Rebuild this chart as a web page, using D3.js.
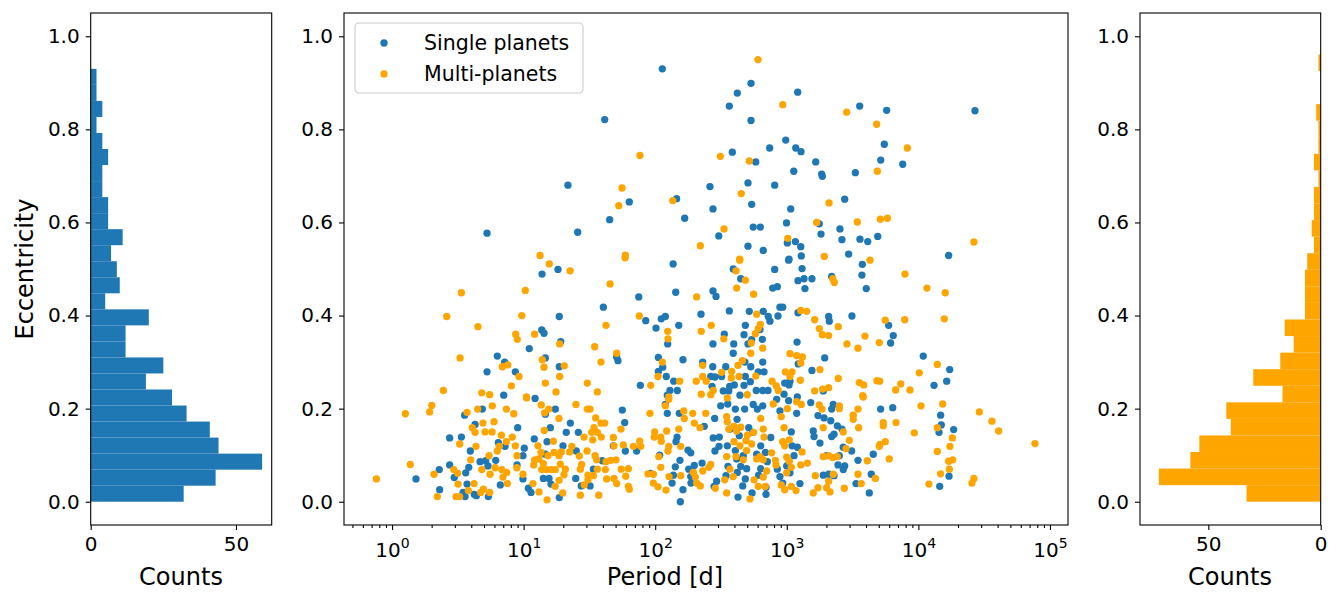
<!DOCTYPE html>
<html><head><meta charset="utf-8">
<script src="https://cdn.jsdelivr.net/npm/d3@7"></script>
<style>
body{margin:0;background:#fff}
text{font-family:"DejaVu Sans",sans-serif;fill:#000}
</style>
</head><body>
<svg id="chart" width="1341" height="604"></svg>
<script>
// ---------- DATA ----------
// log10 of orbital period in days, and eccentricity
const singleLogPeriod=[1.337,0.722,1.411,2.054,1.616,2.728,2.624,2.563,3.083,2.728,2.992,2.870,3.068,3.108,2.586,2.764,3.220,3.053,3.265,3.270,2.416,2.705,2.908,2.163,1.803,1.654,2.224,2.439,2.733,3.030,2.745,2.799,2.998,3.247,3.260,2.483,2.705,2.821,3.004,3.065,3.106,3.110,3.017,
3.554,3.759,4.430,3.741,3.714,3.881,3.521,3.440,3.404,3.419,3.556,3.615,3.691,3.470,4.230,
1.261,1.140,1.271,1.138,1.155,1.282,1.043,0.800,0.856,1.165,1.271,0.722,0.937,0.849,1.087,
2.136,2.593,2.650,3.014,2.908,3.116,3.085,3.131,3.191,2.893,2.928,3.138,1.875,2.156,2.439,2.462,1.606,2.563,2.715,2.821,2.948,2.969,2.348,1.928,2.046,2.077,2.179,2.006,2.859,2.872,2.933,2.685,2.796,3.085,3.318,3.323,2.525,2.675,2.733,2.814,2.095,2.439,2.597,2.705,3.078,2.593,1.707,1.717,2.024,2.211,2.057,2.361,2.682,2.817,3.087,3.288,2.437,2.536,2.726,2.783,2.827,3.191,2.024,2.084,2.141,2.422,2.454,2.505,2.685,2.723,3.024,3.017,2.984,1.887,2.112,2.168,2.432,2.566,2.601,2.675,2.517,2.559,2.768,2.817,2.857,2.979,3.080,3.277,2.092,2.644,
3.574,3.571,3.604,3.341,3.495,3.774,3.809,3.789,4.037,4.238,4.215,4.119,
0.182,0.359,0.362,0.438,0.438,0.527,0.552,0.686,0.631,0.595,0.669,0.712,0.729,0.788,0.583,0.560,0.473,0.570,0.540,0.625,0.555,0.732,0.641,0.823,0.808,0.859,0.955,1.005,0.995,0.950,0.995,1.036,1.056,1.081,1.165,1.241,1.203,1.178,1.165,1.299,1.324,1.355,1.416,1.400,1.150,1.193,1.208,1.396,1.438,1.271,
1.750,1.768,1.682,1.773,1.859,1.598,1.530,1.505,2.092,2.077,2.183,2.166,2.158,2.249,2.270,2.034,2.188,2.153,2.255,2.297,2.356,1.963,2.138,2.128,2.270,2.272,2.211,2.191,2.373,2.452,2.441,2.487,2.454,2.485,2.498,2.551,2.609,2.680,2.745,2.776,2.817,2.622,2.568,2.711,2.741,2.639,2.548,2.609,2.619,2.669,2.650,2.695,2.624,2.553,2.538,2.685,2.665,2.467,2.447,2.629,2.736,2.786,2.802,2.837,2.878,2.802,2.771,2.852,2.928,2.948,2.969,2.842,2.842,2.923,2.948,3.014,3.075,3.034,3.040,3.080,3.055,2.999,3.024,3.100,3.182,3.237,3.283,3.201,3.207,3.252,3.303,3.277,3.318,
3.353,3.341,3.334,3.384,3.419,3.359,3.341,3.429,3.493,3.399,3.389,3.440,3.429,3.359,3.541,3.657,3.642,3.526,3.627,3.713,3.805,4.169,4.174,4.157,4.268,4.233,4.162];
const singleEcc=[0.680,0.577,0.579,0.930,0.821,0.899,0.878,0.850,0.880,0.819,0.777,0.760,0.760,0.752,0.751,0.730,0.730,0.710,0.704,0.699,0.677,0.685,0.680,0.651,0.644,0.606,0.609,0.629,0.639,0.629,0.590,0.590,0.599,0.597,0.575,0.571,0.549,0.540,0.556,0.559,0.548,0.528,0.521,
0.850,0.841,0.840,0.768,0.734,0.725,0.707,0.650,0.586,0.563,0.564,0.559,0.570,0.532,0.529,
0.499,0.489,0.398,0.369,0.362,0.344,0.329,0.313,0.300,0.309,0.290,0.279,0.279,0.229,0.222,
0.511,0.500,0.479,0.519,0.499,0.501,0.475,0.479,0.479,0.459,0.462,0.458,0.440,0.450,0.453,0.441,0.418,0.410,0.409,0.409,0.418,0.418,0.403,0.389,0.393,0.398,0.379,0.373,0.398,0.388,0.399,0.379,0.370,0.406,0.398,0.388,0.360,0.359,0.348,0.349,0.339,0.339,0.339,0.339,0.343,0.319,0.311,0.303,0.310,0.305,0.289,0.300,0.300,0.300,0.296,0.309,0.290,0.290,0.290,0.279,0.279,0.282,0.280,0.269,0.259,0.269,0.268,0.269,0.269,0.258,0.259,0.251,0.255,0.250,0.239,0.239,0.248,0.248,0.251,0.250,0.238,0.238,0.239,0.239,0.239,0.231,0.225,0.238,0.229,0.229,
0.510,0.487,0.458,0.484,0.399,0.379,0.357,0.341,0.313,0.284,0.259,0.250,
0.049,0.069,0.026,0.079,0.137,0.139,0.186,0.199,0.166,0.109,0.086,0.088,0.077,0.089,0.074,0.062,0.052,0.038,0.020,0.016,0.011,0.011,0.013,0.036,0.127,0.119,0.159,0.115,0.099,0.079,0.049,0.029,0.020,0.135,0.188,0.199,0.159,0.129,0.102,0.120,0.149,0.169,0.149,0.109,0.050,0.050,0.038,0.050,0.034,0.009,
0.197,0.170,0.120,0.109,0.109,0.088,0.070,0.034,0.190,0.209,0.190,0.139,0.129,0.111,0.105,0.100,0.089,0.075,0.070,0.078,0.083,0.061,0.057,0.040,0.054,0.040,0.026,0.000,0.162,0.179,0.137,0.139,0.109,0.119,0.206,0.210,0.199,0.199,0.209,0.199,0.206,0.177,0.156,0.159,0.149,0.142,0.120,0.110,0.092,0.099,0.076,0.071,0.063,0.076,0.056,0.049,0.034,0.044,0.033,0.010,0.019,0.057,0.071,0.106,0.138,0.120,0.102,0.086,0.070,0.054,0.040,0.016,0.031,0.220,0.195,0.217,0.190,0.150,0.120,0.117,0.099,0.077,0.062,0.039,0.213,0.185,0.180,0.152,0.140,0.126,0.099,0.057,0.059,
0.209,0.199,0.174,0.163,0.156,0.145,0.140,0.117,0.109,0.099,0.079,0.077,0.069,0.056,0.089,0.102,0.059,0.039,0.019,0.199,0.202,0.186,0.165,0.149,0.155,0.055,0.033];

const multiLogPeriod=[1.125,2.781,2.969,1.884,2.495,2.715,1.748,1.723,2.133,2.654,3.321,2.523,3.227,3.007,2.343,1.773,2.642,3.285,3.455,3.683,3.916,3.688,3.536,3.711,3.764,4.422,3.632,
1.195,1.353,0.527,1.013,0.416,0.986,0.653,0.940,0.952,1.084,1.274,0.517,0.838,0.879,1.142,1.155,1.309,0.965,1.274,0.907,1.165,1.484,0.390,0.682,0.742,1.021,1.246,
1.771,2.642,2.614,2.685,2.619,2.748,1.657,2.315,1.879,1.626,2.771,2.799,2.783,2.761,2.426,2.350,2.095,2.097,2.521,3.106,3.151,3.212,3.247,3.270,3.318,1.540,1.588,1.707,2.730,2.817,2.726,3.024,3.075,3.118,3.106,2.054,2.361,2.629,2.662,2.581,2.505,2.021,2.361,2.388,2.578,2.637,2.764,2.989,3.040,3.024,3.252,3.103,2.888,2.920,2.935,2.186,2.312,1.966,1.560,2.441,2.422,2.350,2.700,3.212,3.273,3.318,2.103,
3.898,3.349,3.361,4.065,4.204,3.748,3.896,4.197,3.391,3.594,3.457,3.541,3.703,4.144,4.007,3.391,3.551,3.584,3.685,3.706,3.866,3.827,3.936,3.577,
-0.119,0.101,0.139,0.286,0.302,0.319,0.344,0.570,0.651,0.610,0.631,0.691,0.762,0.775,0.707,0.760,0.869,0.925,0.831,0.869,0.914,0.937,0.514,0.638,0.598,0.737,0.800,0.815,0.469,0.499,0.682,0.745,0.783,0.834,0.872,0.843,0.876,0.948,0.950,0.995,0.502,0.623,0.580,0.694,0.674,0.742,0.486,0.514,1.024,1.134,1.191,1.160,1.269,1.398,1.484,1.157,1.226,1.109,1.459,1.482,1.132,1.185,1.231,1.269,1.286,1.366,1.350,1.423,1.084,1.117,1.077,1.150,1.279,1.138,1.173,1.210,1.241,1.317,1.307,1.441,1.431,1.489,1.489,1.269,1.239,1.071,1.117,1.297,1.431,1.461,1.178,
1.505,1.548,1.588,1.616,1.535,1.517,1.560,1.590,1.525,1.682,1.687,1.758,1.834,1.882,1.890,1.740,1.960,2.103,2.077,2.217,2.285,2.384,2.221,2.297,2.340,1.996,1.993,2.042,2.046,2.087,2.179,2.103,2.097,2.194,1.543,1.555,1.626,1.662,1.702,1.560,1.621,1.530,1.742,1.796,1.776,1.631,1.687,1.707,1.796,1.803,1.571,2.027,2.042,1.945,1.986,1.986,2.021,2.082,2.105,2.194,2.290,2.305,2.315,2.343,2.361,2.407,2.422,2.528,2.457,2.543,2.593,2.543,2.568,2.614,2.669,2.695,2.733,2.690,2.599,2.644,2.543,2.548,2.559,2.599,2.650,2.619,2.700,2.748,2.821,2.827,2.802,2.897,3.004,2.958,2.979,2.969,3.019,2.984,2.771,2.796,2.821,2.885,2.913,2.918,2.847,2.821,2.751,2.783,2.837,2.720,2.999,3.019,3.034,2.999,2.958,2.984,3.034,3.070,3.116,3.106,3.156,3.075,3.110,3.247,3.267,3.277,3.277,3.318,3.217,3.237,3.201,3.303,3.318,2.548,
3.581,3.399,3.399,3.541,3.505,3.505,3.546,3.429,3.475,3.450,3.349,3.384,3.353,3.328,3.437,3.541,3.566,3.612,3.673,3.733,3.733,3.830,3.748,3.708,3.703,3.779,4.020,4.185,3.969,4.144,4.258,4.240,4.144,4.230,4.261,4.235,4.169,4.080,4.463,4.559,4.610,4.886,4.422,4.407];
const multiEcc=[0.529,0.950,0.853,0.744,0.742,0.732,0.674,0.636,0.647,0.662,0.642,0.586,0.600,0.566,0.550,0.530,0.521,0.527,0.837,0.811,0.760,0.710,0.601,0.607,0.609,0.558,0.519,
0.511,0.496,0.449,0.454,0.398,0.400,0.376,0.360,0.349,0.360,0.339,0.309,0.290,0.294,0.305,0.289,0.292,0.269,0.269,0.249,0.255,0.255,0.239,0.234,0.230,0.225,0.236,
0.524,0.519,0.496,0.476,0.459,0.446,0.468,0.440,0.399,0.379,0.403,0.381,0.372,0.361,0.379,0.366,0.366,0.350,0.350,0.411,0.409,0.391,0.372,0.359,0.357,0.333,0.300,0.319,0.341,0.330,0.319,0.318,0.314,0.311,0.298,0.300,0.293,0.293,0.303,0.280,0.278,0.269,0.269,0.259,0.266,0.269,0.270,0.279,0.279,0.269,0.284,0.261,0.259,0.249,0.239,0.259,0.259,0.250,0.236,0.239,0.230,0.231,0.230,0.238,0.242,0.245,0.225,
0.489,0.479,0.471,0.459,0.449,0.390,0.391,0.393,0.376,0.356,0.339,0.330,0.342,0.295,0.277,0.265,0.256,0.251,0.260,0.259,0.253,0.240,0.240,0.228,
0.049,0.189,0.080,0.193,0.207,0.059,0.011,0.192,0.199,0.159,0.149,0.169,0.206,0.172,0.150,0.150,0.199,0.189,0.143,0.129,0.139,0.120,0.124,0.119,0.090,0.099,0.109,0.119,0.069,0.061,0.069,0.059,0.073,0.069,0.063,0.053,0.039,0.073,0.099,0.059,0.038,0.039,0.024,0.027,0.020,0.020,0.011,0.011,0.223,0.208,0.199,0.191,0.179,0.209,0.199,0.153,0.130,0.120,0.139,0.109,0.106,0.099,0.106,0.099,0.107,0.119,0.107,0.098,0.090,0.092,0.079,0.082,0.081,0.069,0.069,0.069,0.069,0.070,0.058,0.080,0.070,0.057,0.047,0.046,0.033,0.039,0.021,0.019,0.014,0.036,0.004,
0.199,0.180,0.169,0.169,0.159,0.149,0.149,0.139,0.133,0.138,0.120,0.122,0.119,0.130,0.119,0.156,0.190,0.220,0.206,0.195,0.190,0.190,0.179,0.169,0.159,0.150,0.139,0.139,0.130,0.152,0.156,0.119,0.109,0.119,0.099,0.090,0.086,0.089,0.090,0.070,0.069,0.056,0.070,0.071,0.055,0.049,0.050,0.039,0.033,0.027,0.014,0.097,0.074,0.060,0.059,0.040,0.032,0.025,0.054,0.056,0.063,0.053,0.040,0.034,0.066,0.074,0.080,0.047,0.029,0.019,0.054,0.097,0.070,0.097,0.090,0.110,0.124,0.131,0.129,0.120,0.183,0.172,0.156,0.162,0.160,0.152,0.143,0.149,0.156,0.139,0.179,0.210,0.200,0.183,0.159,0.129,0.133,0.120,0.092,0.097,0.090,0.105,0.089,0.079,0.066,0.053,0.047,0.033,0.033,0.006,0.096,0.087,0.074,0.062,0.036,0.026,0.033,0.024,0.107,0.079,0.083,0.215,0.209,0.208,0.199,0.159,0.097,0.099,0.056,0.030,0.019,0.030,0.044,0.223,
0.225,0.206,0.200,0.199,0.186,0.177,0.159,0.150,0.132,0.114,0.095,0.097,0.059,0.021,0.029,0.059,0.039,0.088,0.050,0.170,0.163,0.170,0.129,0.123,0.119,0.092,0.206,0.210,0.148,0.159,0.137,0.119,0.108,0.087,0.090,0.070,0.060,0.038,0.193,0.173,0.152,0.125,0.050,0.040];

// histogram counts per eccentricity bin (bottom to top), 27 equal bins over each range
const singleHistCounts=[32,43,59,44,41,33,28,19,25,12,12,20,5,10,9,7,11,6,6,4,4,6,4,2,4,2,2];
const singleHistRange=[0,0.93];
const multiHistCounts=[33,72,58,54,40,42,17,30,18,12,16,7,7,7,6,3,4,3,3,1,3,1,1,2,0,0,1];
const multiHistRange=[0,0.961];

const eccTicks=[0,0.2,0.4,0.6,0.8,1.0];
const periodExponents=[0,1,2,3,4,5];
const leftCountTicks=[0,50];
const rightCountTicks=[50,0];
const seriesNames=["Single planets","Multi-planets"];

// ---------- LAYOUT ----------
const BLUE="#1f77b4", ORANGE="#ffa500";
const TOP=13, BOTTOM=525;
const svg=d3.select("#chart");
const y=d3.scaleLinear().domain([-0.05,1.05]).range([BOTTOM,TOP]);
const xL=d3.scaleLinear().domain([0,62.3]).range([90.7,271.7]);
const xM=d3.scaleLog().domain([Math.pow(10,-0.365),Math.pow(10,5.137)]).range([344,1068]);
const xR=d3.scaleLinear().domain([80.4,0]).range([1140,1320.7]);
const TICKFS=20, LABELFS=24;

function styleAxis(g){
  g.select(".domain").remove();
  g.selectAll(".tick line").attr("stroke","#000").attr("stroke-width",1.1);
  g.selectAll(".tick text").style("font-size",TICKFS+"px").style("font-family","DejaVu Sans");
}
function yAxis(xpos){
  svg.append("g").attr("transform",`translate(${xpos},0)`)
    .call(d3.axisLeft(y).tickValues(eccTicks).tickFormat(d3.format(".1f")).tickSize(5).tickPadding(6))
    .call(styleAxis);
}
function spine(x0,x1){
  svg.append("rect").attr("x",x0).attr("y",TOP).attr("width",x1-x0).attr("height",BOTTOM-TOP)
    .attr("fill","none").attr("stroke","#000").attr("stroke-width",1.1);
}
function edges(range,n){ const w=(range[1]-range[0])/n; return d3.range(n+1).map(i=>range[0]+i*w); }

// ----- left histogram -----
const eL=edges(singleHistRange,singleHistCounts.length);
svg.append("g").selectAll("rect").data(singleHistCounts).join("rect")
  .attr("x",xL(0)).attr("width",d=>xL(d)-xL(0))
  .attr("y",(d,i)=>y(eL[i+1])).attr("height",(d,i)=>y(eL[i])-y(eL[i+1]))
  .attr("fill",BLUE);
yAxis(90.7);
svg.append("g").attr("transform",`translate(0,${BOTTOM})`)
  .call(d3.axisBottom(xL).tickValues(leftCountTicks).tickFormat(d3.format("d")).tickSize(5).tickPadding(7))
  .call(styleAxis);
spine(90.7,271.7);
svg.append("text").attr("x",181).attr("y",585).attr("text-anchor","middle").style("font-size",LABELFS+"px").text("Counts");
svg.append("text").attr("transform","translate(33,269) rotate(-90)").attr("text-anchor","middle").style("font-size",LABELFS+"px").text("Eccentricity");

// ----- middle scatter -----
const singles=singleEcc.map((e,i)=>({p:Math.pow(10,singleLogPeriod[i]),e})).filter(d=>isFinite(d.p));
const multis=multiEcc.map((e,i)=>({p:Math.pow(10,multiLogPeriod[i]),e})).filter(d=>isFinite(d.p));
const R=3.65;
svg.append("g").selectAll("circle").data(singles).join("circle")
  .attr("cx",d=>xM(d.p)).attr("cy",d=>y(d.e)).attr("r",R).attr("fill",BLUE);
svg.append("g").selectAll("circle").data(multis).join("circle")
  .attr("cx",d=>xM(d.p)).attr("cy",d=>y(d.e)).attr("r",R).attr("fill",ORANGE);
yAxis(344);
// minor log ticks
const minor=[];
for(let k=-1;k<=5;k++) for(let m=2;m<=9;m++){ const v=m*Math.pow(10,k); if(v>xM.domain()[0]&&v<xM.domain()[1]) minor.push(v); }
svg.append("g").attr("transform",`translate(0,${BOTTOM})`)
  .call(d3.axisBottom(xM).tickValues(minor).tickFormat("").tickSize(3))
  .call(styleAxis);
const majorG=svg.append("g").attr("transform",`translate(0,${BOTTOM})`)
  .call(d3.axisBottom(xM).tickValues(periodExponents.map(k=>Math.pow(10,k))).tickFormat("").tickSize(5))
  .call(styleAxis);
majorG.selectAll(".tick").each(function(d){
  const k=Math.round(Math.log10(d));
  const t=d3.select(this).append("text").attr("y",32).attr("text-anchor","middle").attr("fill","#000").style("font-size",TICKFS+"px");
  t.append("tspan").text("10");
  t.append("tspan").attr("dy",-9).style("font-size","14px").text(String(k));
});
spine(344,1068);
svg.append("text").attr("x",665).attr("y",585).attr("text-anchor","middle").style("font-size",LABELFS+"px").text("Period [d]");

// legend
const lg=svg.append("g");
lg.append("rect").attr("x",355).attr("y",23).attr("width",228).attr("height",70).attr("rx",4)
  .attr("fill","#fff").attr("fill-opacity",0.8).attr("stroke","#cccccc").attr("stroke-width",1.1);
[BLUE,ORANGE].forEach((c,i)=>{
  const cy=43+i*31;
  lg.append("circle").attr("cx",384).attr("cy",cy).attr("r",R).attr("fill",c);
  lg.append("text").attr("x",424).attr("y",cy).attr("dy","0.36em").style("font-size","20.5px").text(seriesNames[i]);
});

// ----- right histogram -----
const eR=edges(multiHistRange,multiHistCounts.length);
svg.append("g").selectAll("rect").data(multiHistCounts).join("rect")
  .attr("x",d=>xR(d)).attr("width",d=>xR(0)-xR(d))
  .attr("y",(d,i)=>y(eR[i+1])).attr("height",(d,i)=>y(eR[i])-y(eR[i+1]))
  .attr("fill",ORANGE);
yAxis(1140);
svg.append("g").attr("transform",`translate(0,${BOTTOM})`)
  .call(d3.axisBottom(xR).tickValues(rightCountTicks).tickFormat(d3.format("d")).tickSize(5).tickPadding(7))
  .call(styleAxis);
spine(1140,1320.7);
svg.append("text").attr("x",1230).attr("y",585).attr("text-anchor","middle").style("font-size",LABELFS+"px").text("Counts");
</script>
</body></html>
